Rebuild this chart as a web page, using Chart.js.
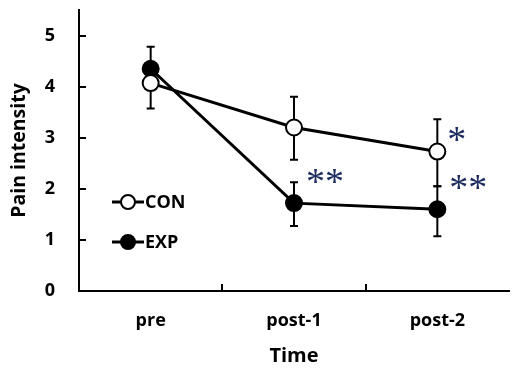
<!DOCTYPE html>
<html>
<head>
<meta charset="utf-8">
<script src="https://cdn.jsdelivr.net/npm/chart.js@4.4.1/dist/chart.umd.min.js"></script>
<style>
  html, body { margin: 0; padding: 0; background: #fff; }
  #wrap { width: 519px; height: 376px; }
</style>
</head>
<body>
<div id="wrap"><canvas id="painChart"></canvas></div>
<script>
const timePoints = ['pre', 'post-1', 'post-2'];
const conValues = [4.07, 3.2, 2.73];
const expValues = [4.35, 1.72, 1.6];
// error bar extents (upper / lower), 0 where no bar is drawn
const conErrUp = [0, 0.6, 0.63];
const conErrDown = [0.5, 0.63, 0.68];
const expErrUp = [0.43, 0.41, 0.45];
const expErrDown = [0, 0.45, 0.53];
const conSig = ['', '', '*'];
const expSig = ['', '**', '**'];
const yTicks = [0, 1, 2, 3, 4, 5];

const FONT = '"Open Sans", Lato, sans-serif';

const errorBars = {
  id: 'errorBars',
  beforeDatasetsDraw(chart) {
    const ctx = chart.ctx;
    const x = chart.scales.x, y = chart.scales.y;
    const sets = [[conValues, conErrUp, conErrDown], [expValues, expErrUp, expErrDown]];
    ctx.save();
    ctx.strokeStyle = '#000';
    ctx.lineWidth = 2;
    sets.forEach(([vals, up, down]) => {
      vals.forEach((v, i) => {
        const px = x.getPixelForValue(i);
        const ends = [];
        if (up[i]) ends.push(v + up[i]);
        if (down[i]) ends.push(v - down[i]);
        ends.forEach(e => {
          const py = y.getPixelForValue(e);
          ctx.beginPath();
          ctx.moveTo(px, y.getPixelForValue(v));
          ctx.lineTo(px, py);
          ctx.moveTo(px - 4, py);
          ctx.lineTo(px + 4, py);
          ctx.stroke();
        });
      });
    });
    ctx.restore();
  },
  afterDatasetsDraw(chart) {
    const ctx = chart.ctx;
    const x = chart.scales.x, y = chart.scales.y;
    ctx.save();
    ctx.fillStyle = '#1c2c5e';
    ctx.font = '38px "Liberation Serif", serif';
    ctx.textAlign = 'left';
    ctx.textBaseline = 'middle';
    conSig.forEach((s, i) => {
      if (!s) return;
      ctx.fillText(s, x.getPixelForValue(i) + 10, y.getPixelForValue(conValues[i]) - 10);
    });
    expSig.forEach((s, i) => {
      if (!s) return;
      ctx.fillText(s, x.getPixelForValue(i) + 12, y.getPixelForValue(expValues[i]) - 19);
    });
    ctx.restore();
  }
};

const axisTicks = {
  id: 'axisTicks',
  afterDraw(chart) {
    const ctx = chart.ctx;
    const x = chart.scales.x, y = chart.scales.y;
    const a = chart.chartArea;
    ctx.save();
    ctx.strokeStyle = '#000';
    ctx.lineWidth = 2;
    ctx.beginPath();
    yTicks.forEach(t => {
      const py = Math.round(y.getPixelForValue(t));
      ctx.moveTo(a.left, py);
      ctx.lineTo(a.left + 7, py);
    });
    for (let i = 1; i < timePoints.length; i++) {
      const px = Math.round((x.getPixelForValue(i - 1) + x.getPixelForValue(i)) / 2);
      ctx.moveTo(px, a.bottom);
      ctx.lineTo(px, a.bottom - 7);
    }
    ctx.stroke();
    ctx.restore();
  }
};

const legendBox = {
  id: 'legendBox',
  afterDraw(chart) {
    const ctx = chart.ctx;
    const items = [['CON', '#fff', 202], ['EXP', '#000', 242]];
    ctx.save();
    items.forEach(([label, fill, cy]) => {
      ctx.strokeStyle = '#000';
      ctx.lineWidth = 3;
      ctx.beginPath();
      ctx.moveTo(112, cy);
      ctx.lineTo(144, cy);
      ctx.stroke();
      ctx.beginPath();
      ctx.arc(128, cy, 7, 0, Math.PI * 2);
      ctx.fillStyle = fill;
      ctx.fill();
      ctx.lineWidth = 2;
      ctx.stroke();
      ctx.fillStyle = '#000';
      ctx.font = 'bold 18px ' + FONT;
      ctx.textAlign = 'left';
      ctx.textBaseline = 'middle';
      ctx.fillText(label, 145, cy + 1);
    });
    ctx.restore();
  }
};

new Chart(document.getElementById('painChart'), {
  type: 'line',
  data: {
    labels: timePoints,
    datasets: [
      {
        label: 'CON',
        data: conValues,
        borderColor: '#000',
        borderWidth: 3,
        pointRadius: 8,
        pointBorderWidth: 2,
        pointBackgroundColor: '#fff',
        pointBorderColor: '#000',
        tension: 0
      },
      {
        label: 'EXP',
        data: expValues,
        borderColor: '#000',
        borderWidth: 3,
        pointRadius: 8,
        pointBorderWidth: 2,
        pointBackgroundColor: '#000',
        pointBorderColor: '#000',
        tension: 0
      }
    ]
  },
  options: {
    responsive: true,
    maintainAspectRatio: false,
    animation: false,
    layout: { padding: { top: 10, right: 0, left: 0, bottom: 0 } },
    scales: {
      x: {
        offset: true,
        grid: { display: false, drawTicks: false },
        border: { display: true, color: '#000', width: 2 },
        ticks: { color: '#000', font: { family: FONT, size: 18, weight: 'bold' }, padding: 19 },
        title: { display: true, text: 'Time', color: '#000', font: { family: FONT, size: 20, weight: 'bold' }, padding: { top: 0, bottom: 8 } },
        afterFit(scale) {
          scale.height = 85;
          scale.paddingLeft = 0;
          scale.paddingRight = 0;
        }
      },
      y: {
        min: 0,
        max: 5.5,
        grid: { display: false, drawTicks: false },
        border: { display: true, color: '#000', width: 2 },
        afterBuildTicks(scale) { scale.ticks = yTicks.map(v => ({ value: v })); },
        ticks: { color: '#000', font: { family: FONT, size: 18, weight: 'bold' }, padding: 24 },
        title: { display: true, text: 'Pain intensity', color: '#000', font: { family: FONT, size: 19.5, weight: 'bold' }, padding: { top: 8, bottom: 0 } },
        afterFit(scale) {
          scale.width = 79;
          scale.paddingTop = 0;
          scale.paddingBottom = 0;
        }
      }
    },
    plugins: {
      legend: { display: false },
      tooltip: { enabled: false }
    }
  },
  plugins: [errorBars, axisTicks, legendBox]
});
</script>
</body>
</html>
